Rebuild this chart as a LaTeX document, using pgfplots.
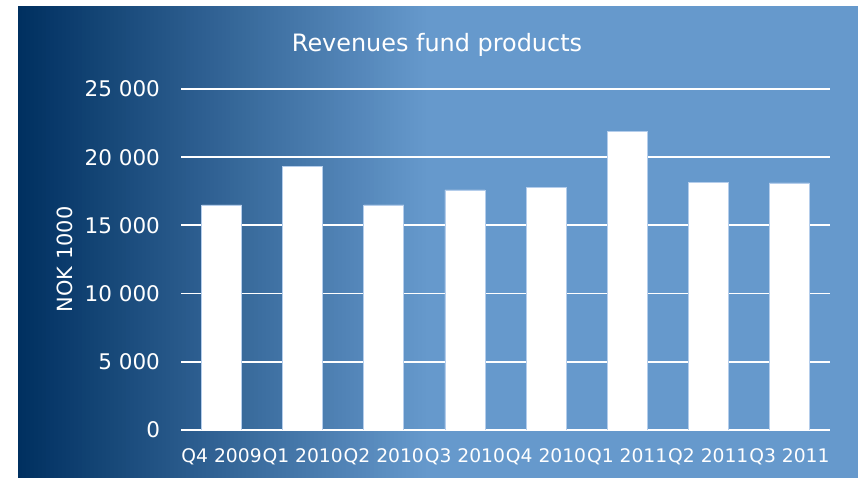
\documentclass[border=0pt]{standalone}
\usepackage{fontspec}
\setmainfont{DejaVu Sans}
\usepackage{pgfplots}
\pgfplotsset{compat=1.18}
\definecolor{navy}{RGB}{0,48,96}
\definecolor{skyb}{RGB}{102,153,204}
\definecolor{baredge}{RGB}{180,205,235}

\begin{document}
\begin{tikzpicture}
% picture is 429bp x 239bp (half of the 858x478 pixel reference)
\useasboundingbox (0,0) rectangle (429bp,239bp);
\fill[skyb] (9bp,0) rectangle (429bp,236bp);
% background gradient, drawn as thin stripes
\foreach \i in {0,...,102}{
  \pgfmathsetmacro{\p}{\i*100/102}
  \pgfmathsetmacro{\xa}{9+2*\i}
  \pgfmathsetmacro{\xb}{11.3+2*\i}
  \fill[skyb!\p!navy] (\xa bp,0) rectangle (\xb bp,236bp);
}
\node[anchor=base, text=white, font=\fontsize{12}{14}\selectfont] at (218.5bp,213bp) {Revenues fund products};
\begin{axis}[
    at={(90.5bp,24bp)}, anchor=south west,
    scale only axis, width=324.5bp, height=170.5bp,
    ybar, bar width=20bp,
    xmin=-0.5, xmax=7.5, ymin=0, ymax=25000,
    scaled y ticks=false,
    xtick=data,
    xticklabels={Q4 2009,Q1 2010,Q2 2010,Q3 2010,Q4 2010,Q1 2011,Q2 2011,Q3 2011},
    ytick={0,5000,10000,15000,20000,25000},
    yticklabels={0,5 000,10 000,15 000,20 000,25 000},
    axis y line*=left, axis x line*=bottom,
    y axis line style={draw=none},
    x axis line style={white, line width=0.9bp, -},
    major tick length=0pt,
    ymajorgrids=true,
    grid style={white, line width=0.9bp},
    yticklabel style={text=white, font=\fontsize{10.8}{12}\selectfont, xshift=-7bp},
    xticklabel style={text=white, font=\fontsize{9.4}{11}\selectfont, yshift=-6bp},
    ylabel={NOK 1000},
    every axis y label/.style={at={(axis description cs:-0.1787,0.5)}, rotate=90, anchor=center,
        text=white, font=\fontsize{10.5}{12}\selectfont},
]
\addplot[fill=white, draw=baredge, line width=0.4bp] coordinates {
    (0,16500) (1,19350) (2,16500) (3,17600) (4,17800) (5,21900) (6,18180) (7,18110)};
\end{axis}
\end{tikzpicture}
\end{document}
